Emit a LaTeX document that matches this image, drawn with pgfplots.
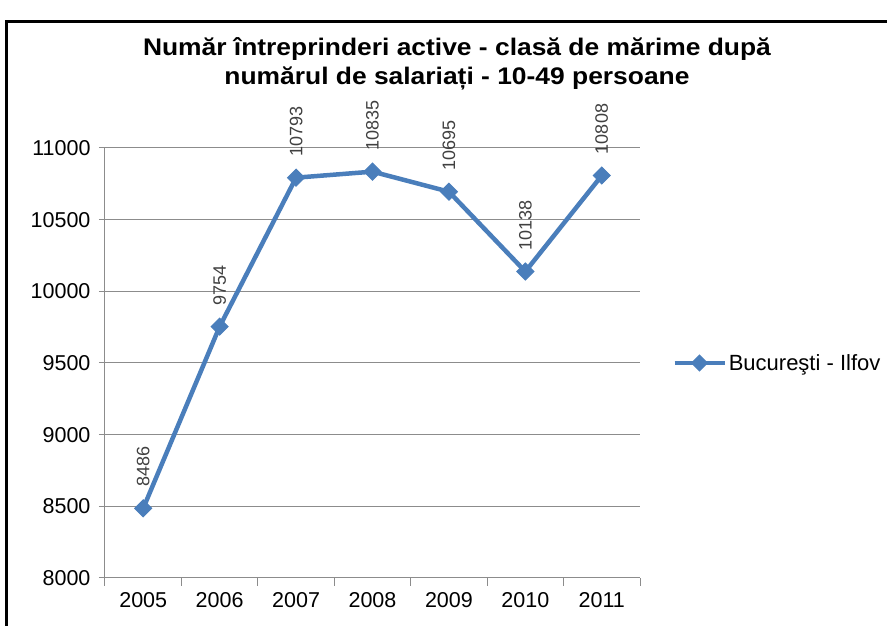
\documentclass[border=0pt]{standalone}
\usepackage{fontspec}
\setmainfont{Liberation Sans}
\newfontfamily\titlefont[FakeStretch=1.1]{Liberation Sans}
\usepackage{pgfplots}
\pgfplotsset{compat=1.18}

\definecolor{serie}{HTML}{4A7EBB}
\definecolor{gridc}{HTML}{8C8C8C}
\definecolor{labelc}{HTML}{404040}

\begin{document}
\begin{tikzpicture}
\path[use as bounding box] (0pt,0pt) rectangle (887pt,626pt);
% chart frame
\draw[black, line width=3pt] (6pt,0pt) -- (6pt,604pt) -- (887pt,604pt);

% title
\node[align=center, font=\titlefont\bfseries\fontsize{24}{28.5}\selectfont] at (457pt,562pt)
  {Număr întreprinderi active - clasă de mărime după\\numărul de salariați - 10-49 persoane};

\begin{axis}[
    at={(105pt,48pt)}, anchor=south west,
    scale only axis, width=535pt, height=430pt,
    xmin=-0.5, xmax=6.5,
    ymin=8000, ymax=11000,
    axis x line*=bottom, axis y line*=left,
    axis line style={gridc, line width=1pt, -},
    xtick={0,...,6},
    xticklabels={2005,2006,2007,2008,2009,2010,2011},
    minor xtick={-0.5,0.5,...,6.5},
    every major x tick/.append style={draw=none},
    ytick={8000,8500,...,11000},
    major tick length=6pt, minor tick length=8pt,
    tick align=outside,
    tick style={gridc, line width=1pt},
    ymajorgrids, grid style={gridc, line width=1pt},
    scaled y ticks=false,
    /pgf/number format/1000 sep={},
    tick label style={font=\fontsize{21.5}{21.5}\selectfont},
    yticklabel style={xshift=-5pt},
    xticklabel style={yshift=-5pt},
    /pgf/number format/assume math mode=true,
    legend style={at={(1.06,0.5)}, anchor=west, draw=none, fill=none,
        font=\fontsize{22}{22}\selectfont, inner sep=0pt,
        nodes={inner sep=2pt}},
    legend image code/.code={
        \draw[serie, line width=4.5pt] (0pt,0pt) -- (50pt,0pt);
        \fill[serie] (25pt,5.5pt) -- (30.5pt,0pt) -- (25pt,-5.5pt) -- (19.5pt,0pt) -- cycle;
    },
    clip=false,
]
\addplot[serie, line width=4.5pt,
    mark=square*, mark size=6pt, mark options={rotate=45, line width=1pt},
    nodes near coords={\pgfmathprintnumber[fixed,precision=0,1000 sep={}]{\pgfplotspointmeta}},
    every node near coord/.append style={rotate=90, anchor=west, text=labelc,
        inner ysep=0pt, font=\fontsize{18}{18}\selectfont, /tikz/inner xsep=21pt},
] coordinates {
    (0, 8486)
    (1, 9754)
    (2, 10793)
    (3, 10835)
    (4, 10695)
    (5, 10138)
    (6, 10808)
};
\addlegendentry{Bucureşti - Ilfov}
\end{axis}
\end{tikzpicture}
\end{document}
